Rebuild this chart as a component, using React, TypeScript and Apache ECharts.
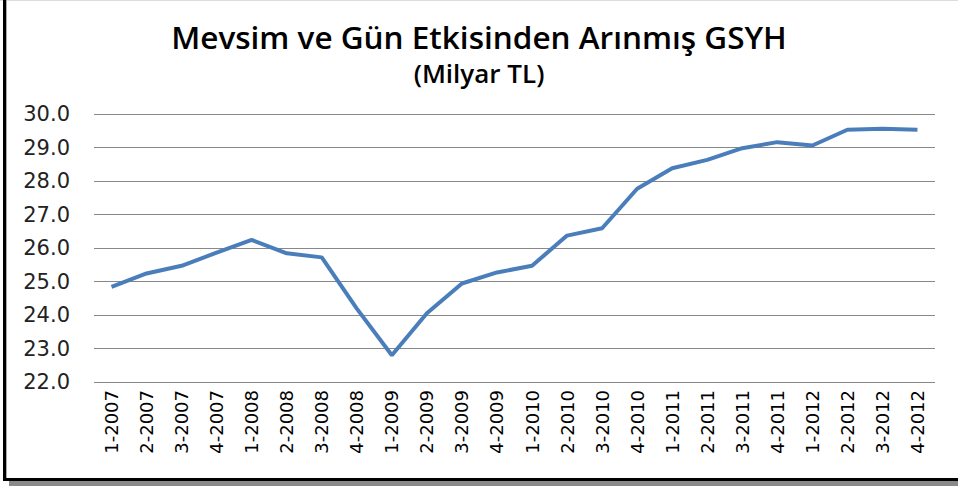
import React, { useEffect, useRef } from "react";
import * as echarts from "echarts";

const categories = [
  "1-2007", "2-2007", "3-2007", "4-2007",
  "1-2008", "2-2008", "3-2008", "4-2008",
  "1-2009", "2-2009", "3-2009", "4-2009",
  "1-2010", "2-2010", "3-2010", "4-2010",
  "1-2011", "2-2011", "3-2011", "4-2011",
  "1-2012", "2-2012", "3-2012", "4-2012",
];

const gdpValues = [
  24.84, 25.24, 25.47, 25.86,
  26.24, 25.84, 25.72, 24.19,
  22.8, 24.05, 24.94, 25.27,
  25.47, 26.37, 26.59, 27.77,
  28.38, 28.63, 28.98, 29.16,
  29.06, 29.53, 29.56, 29.53,
];

const titleText = "Mevsim ve Gün Etkisinden Arınmış GSYH";
const subtitleText = "(Milyar TL)";

export default function App() {
  const ref = useRef<HTMLDivElement>(null);
  useEffect(() => {
    if (!ref.current) return;
    const chart = echarts.init(ref.current, null, { renderer: "svg" });
    chart.setOption({
      animation: false,
      backgroundColor: "#ffffff",
      title: [
        {
          text: titleText,
          left: "center",
          top: 15,
          textStyle: {
            fontFamily: "Open Sans",
            fontWeight: 600,
            fontSize: 31.5,
            color: "#000",
          },
        },
        {
          text: subtitleText,
          left: "center",
          top: 55,
          textStyle: {
            fontFamily: "Open Sans",
            fontWeight: 600,
            fontSize: 26,
            color: "#000",
          },
        },
      ],
      graphic: [
        { type: "rect", shape: { x: 0, y: 0, width: 958, height: 1 }, style: { fill: "#dddddd" } },
        { type: "rect", shape: { x: 3, y: 0, width: 3, height: 481 }, style: { fill: "#000" } },
        { type: "rect", shape: { x: 6, y: 0, width: 1, height: 478 }, style: { fill: "#aaaaaa" } },
        { type: "rect", shape: { x: 3, y: 478, width: 955, height: 3 }, style: { fill: "#000" } },
        { type: "rect", shape: { x: 9, y: 481, width: 949, height: 5 }, style: { fill: "#8a8a8a" } },
      ],
      grid: { left: 94, right: 23, top: 114, bottom: 104, containLabel: false },
      xAxis: {
        type: "category",
        data: categories,
        boundaryGap: true,
        axisLine: { show: false },
        axisTick: { show: false },
        axisLabel: {
          rotate: 90,
          interval: 0,
          margin: 8,
          fontFamily: "DejaVu Sans",
          fontSize: 18,
          color: "#000",
        },
      },
      yAxis: {
        type: "value",
        min: 22,
        max: 30,
        interval: 1,
        axisLine: { show: false },
        axisTick: { show: false },
        splitLine: { lineStyle: { color: "#888888", width: 1 } },
        axisLabel: {
          margin: 24,
          fontFamily: "DejaVu Sans",
          fontSize: 21,
          color: "#222",
          formatter: (v: number) => v.toFixed(1),
        },
      },
      series: [
        {
          type: "line",
          data: gdpValues,
          symbol: "none",
          lineStyle: { color: "#4A7EBB", width: 4 },
          itemStyle: { color: "#4A7EBB" },
        },
      ],
    });
    return () => chart.dispose();
  }, []);
  return <div ref={ref} style={{ width: 958, height: 486, position: "fixed", left: 0, top: 0 }} />;
}
